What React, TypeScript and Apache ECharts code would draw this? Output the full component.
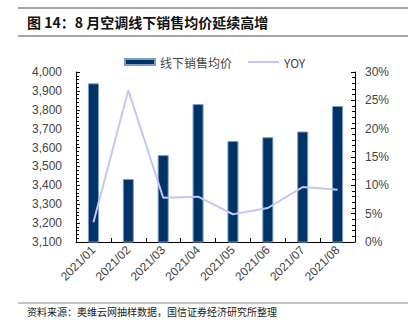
import React, { useEffect, useRef } from "react";
import * as echarts from "echarts";

const categories = ["2021/01", "2021/02", "2021/03", "2021/04", "2021/05", "2021/06", "2021/07", "2021/08"];
const avgPrice = [3940, 3434, 3560, 3830, 3635, 3655, 3685, 3820];
const yoy = [3.5, 26.8, 7.8, 8.0, 4.9, 6.0, 9.7, 9.2];
const titleText = "图 14：8 月空调线下销售均价延续高增";
const sourceText = "资料来源：奥维云网抽样数据，国信证券经济研究所整理";
const seriesNames = ["线下销售均价", "YOY"];

export default function App() {
  const ref = useRef<HTMLDivElement>(null);
  useEffect(() => {
    if (!ref.current) return;
    const chart = echarts.init(ref.current, null, { renderer: "svg" });
    const font = "'Liberation Sans', Arial, sans-serif";
    const legendText = { color: "#444", fontSize: 12, fontFamily: "'Noto Sans CJK SC', " + font };
    chart.setOption({
      animation: false,
      backgroundColor: "#ffffff",
      textStyle: { fontFamily: font },
      graphic: [
        { type: "line", shape: { x1: 18, y1: 8, x2: 408, y2: 8 }, style: { stroke: "#888", lineWidth: 1.5 } },
        { type: "line", shape: { x1: 18, y1: 36, x2: 408, y2: 36 }, style: { stroke: "#888", lineWidth: 1.5 } },
        {
          type: "text", left: 27, top: 15,
          style: { text: titleText, fill: "#111", font: "bold 14px 'Noto Sans CJK SC', sans-serif" },
        },
        { type: "line", shape: { x1: 18, y1: 303, x2: 408, y2: 303 }, style: { stroke: "#888", lineWidth: 1 } },
        {
          type: "text", left: 27, top: 306,
          style: { text: sourceText, fill: "#222", font: "10px 'Noto Sans CJK SC', sans-serif" },
        },
      ],
      legend: [
        {
          top: 51,
          left: 119,
          textStyle: legendText,
          data: [{ name: seriesNames[0], icon: "rect" }],
          itemWidth: 30,
          itemHeight: 6,
        },
        {
          top: 51,
          left: 243,
          textStyle: legendText,
          data: [{ name: seriesNames[1], icon: "rect", itemStyle: { color: "#c6c6f4" } }],
          itemWidth: 31,
          itemHeight: 2,
        },
      ],
      grid: { left: 76, right: 53, top: 72, bottom: 83 },
      xAxis: {
        type: "category",
        data: categories,
        axisLine: { lineStyle: { color: "#000", width: 1 } },
        axisTick: { show: true, inside: true, length: 4, alignWithLabel: false, lineStyle: { color: "#000" } },
        axisLabel: { rotate: 45, color: "#444", fontSize: 12, margin: 6, interval: 0 },
      },
      yAxis: [
        {
          type: "value",
          min: 3100,
          max: 4000,
          interval: 100,
          axisLine: { show: true, lineStyle: { color: "#000" } },
          axisTick: { show: true, inside: true, length: 4, lineStyle: { color: "#000" } },
          minorTick: { show: true, splitNumber: 5, length: 3, lineStyle: { color: "#000" } },
          splitLine: { show: false },
          axisLabel: {
            color: "#444", fontSize: 12, margin: 14,
            formatter: (v: number) => v.toLocaleString("en-US"),
          },
        },
        {
          type: "value",
          min: 0,
          max: 30,
          interval: 5,
          position: "right",
          axisLine: { show: true, lineStyle: { color: "#000" } },
          axisTick: { show: true, inside: true, length: 4, lineStyle: { color: "#000" } },
          minorTick: { show: true, splitNumber: 5, length: 3, lineStyle: { color: "#000" } },
          splitLine: { show: false },
          axisLabel: { color: "#444", fontSize: 12, margin: 10, formatter: "{value}%" },
        },
      ],
      series: [
        {
          name: seriesNames[0],
          type: "bar",
          data: avgPrice,
          barWidth: 11,
          itemStyle: { color: "#003366", borderColor: "#7d9cc8", borderWidth: 1 },
        },
        {
          name: seriesNames[1],
          type: "line",
          yAxisIndex: 1,
          data: yoy,
          symbol: "none",
          lineStyle: { color: "#c6c6f4", width: 2 },
          itemStyle: { color: "#c6c6f4" },
        },
      ],
    });
    return () => chart.dispose();
  }, []);
  return <div ref={ref} style={{ width: 408, height: 325, position: "absolute", left: 0, top: 0 }} />;
}
